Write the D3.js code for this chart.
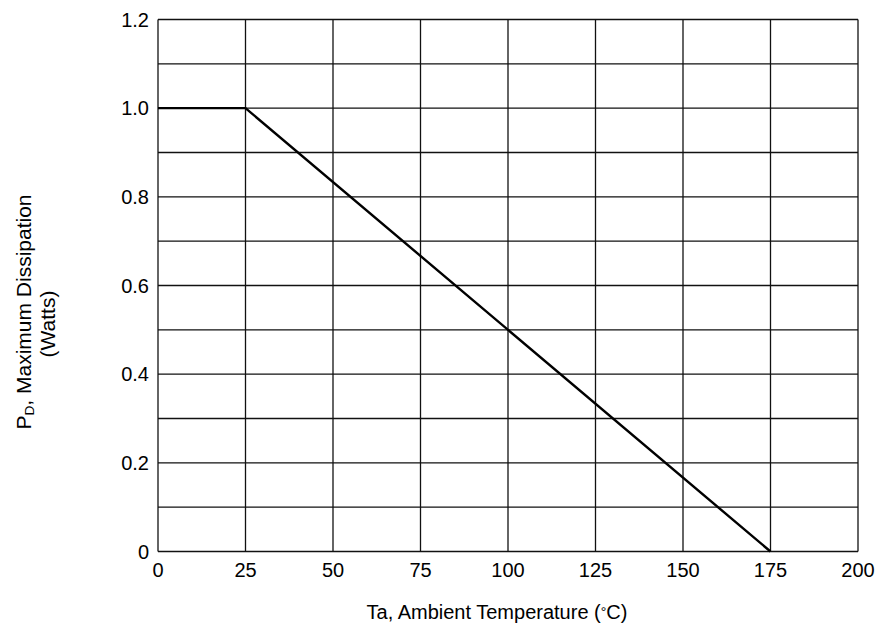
<!DOCTYPE html>
<html>
<head>
<meta charset="utf-8">
<script src="https://cdn.jsdelivr.net/npm/d3@7"></script>
<style>
  html, body { margin: 0; padding: 0; background: #fff; }
  svg { display: block; font-family: Arial, "Liberation Sans", sans-serif; }
</style>
</head>
<body>
<svg id="chart" width="886" height="632"></svg>
<script>
// Power derating curve: maximum dissipation vs ambient temperature
const temperature = [0, 25, 175];        // °C
const dissipation = [1.0, 1.0, 0];       // W

const xTicks = [0, 25, 50, 75, 100, 125, 150, 175, 200];
const yTicks = [0, 0.2, 0.4, 0.6, 0.8, 1.0, 1.2];
const yTickLabels = ["0", "0.2", "0.4", "0.6", "0.8", "1.0", "1.2"];
const yGrid = [0, 0.1, 0.2, 0.3, 0.4, 0.5, 0.6, 0.7, 0.8, 0.9, 1.0, 1.1, 1.2];

const margin = { left: 158, right: 28, top: 19.5, bottom: 80.5 };
const W = 886, H = 632;
const svg = d3.select("#chart");

const x = d3.scaleLinear().domain([0, 200]).range([margin.left, W - margin.right]);
const y = d3.scaleLinear().domain([0, 1.2]).range([H - margin.bottom, margin.top]);

const fontSize = 20;
const titleSize = 21;

// grid
const g = svg.append("g");
g.selectAll("line.v").data(xTicks).join("line")
  .attr("x1", d => x(d)).attr("x2", d => x(d))
  .attr("y1", y(0)).attr("y2", y(1.2))
  .attr("stroke", "#111").attr("stroke-width", 1.3);
g.selectAll("line.h").data(yGrid).join("line")
  .attr("y1", d => y(d)).attr("y2", d => y(d))
  .attr("x1", x(0)).attr("x2", x(200))
  .attr("stroke", "#111").attr("stroke-width", 1.3);

// derating line
const line = d3.line().x((d, i) => x(temperature[i])).y((d, i) => y(dissipation[i]));
svg.append("path")
  .datum(temperature)
  .attr("d", line)
  .attr("fill", "none")
  .attr("stroke", "#000")
  .attr("stroke-width", 2.4)
  .attr("stroke-linejoin", "miter");

// x tick labels
svg.append("g").selectAll("text").data(xTicks).join("text")
  .attr("x", d => x(d)).attr("y", y(0) + 25)
  .attr("text-anchor", "middle")
  .attr("font-size", fontSize).attr("fill", "#000")
  .text(d => d);

// y tick labels
svg.append("g").selectAll("text").data(yTicks).join("text")
  .attr("x", x(0) - 9).attr("y", d => y(d))
  .attr("dy", "0.36em")
  .attr("text-anchor", "end")
  .attr("font-size", fontSize).attr("fill", "#000")
  .text((d, i) => yTickLabels[i]);

// x axis title
const xt = svg.append("text")
  .attr("x", 497).attr("y", 619)
  .attr("text-anchor", "middle")
  .attr("font-size", fontSize).attr("fill", "#000");
xt.append("tspan").text("Ta, Ambient Temperature (");
xt.append("tspan").text("°").attr("font-size", fontSize * 0.7).attr("dy", -2);
xt.append("tspan").text("C)").attr("dy", 2);

// y axis title (two lines, rotated)
const yt = svg.append("text")
  .attr("transform", "translate(31,312) rotate(-90)")
  .attr("text-anchor", "middle")
  .attr("font-size", titleSize).attr("fill", "#000");
yt.append("tspan").text("P");
yt.append("tspan").text("D").attr("font-size", titleSize * 0.65).attr("dy", 3);
yt.append("tspan").text(", Maximum Dissipation").attr("dy", -3);

svg.append("text")
  .attr("transform", "translate(55,324) rotate(-90)")
  .attr("text-anchor", "middle")
  .attr("font-size", titleSize).attr("fill", "#000")
  .text("(Watts)");
</script>
</body>
</html>
